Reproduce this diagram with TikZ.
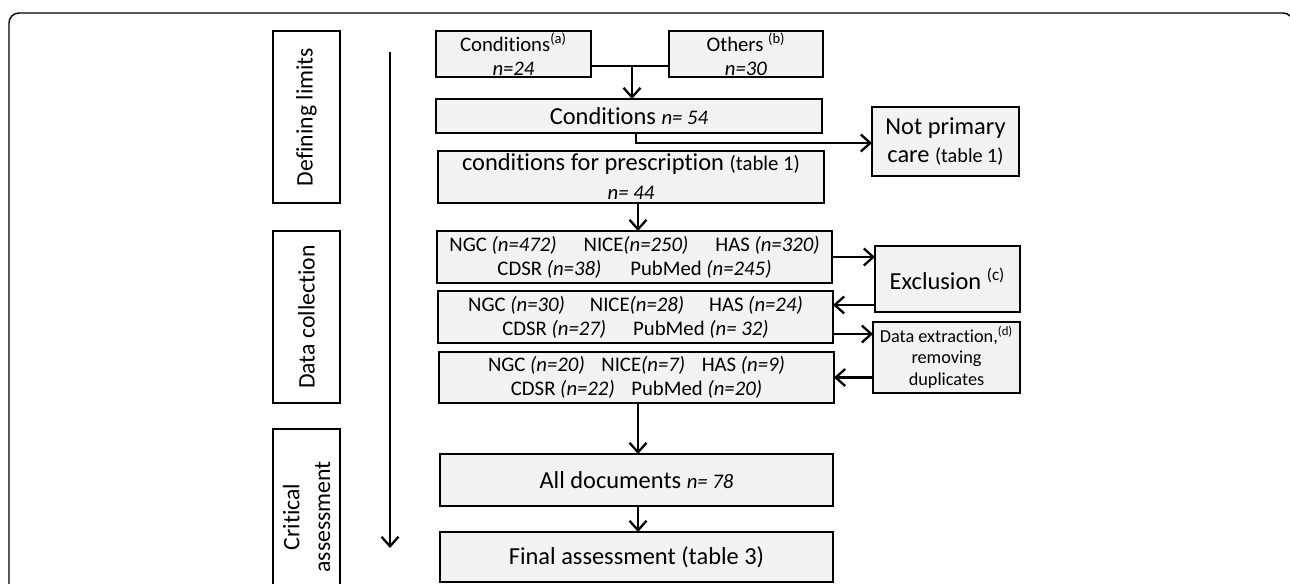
\documentclass[tikz,border=0pt]{standalone}
\usepackage{fontspec}
\setmainfont{Carlito}[Ligatures=NoCommon]
\usepackage{xcolor}
\usepackage{tikz}
\usetikzlibrary{positioning,calc,arrows.meta}

\definecolor{boxgray}{RGB}{242,242,242}

\tikzset{
  box/.style={draw, line width=1.6pt, fill=boxgray, inner sep=0pt, outer sep=0pt, align=center,
    font=\fontsize{13.9}{16.5}\selectfont},
  smallbox/.style={box, font=\fontsize{11.8}{13.7}\selectfont},
  sidebox/.style={draw, line width=1.2pt, fill=white, inner sep=0pt, outer sep=0pt, align=center,
    rotate=90, minimum height=1.34cm, font=\fontsize{13.5}{16.5}\selectfont},
  arr/.style={line width=1.3pt, -{Straight Barb[length=1.9mm,width=3.4mm,line width=1.3pt]}}
}

\begin{document}
\begin{tikzpicture}[x=0.02cm, y=-0.02cm]
    \useasboundingbox (0,0) rectangle (1290,584);
    \clip (0,0) rectangle (1290,584);

    % Frame
    \draw[line width=0.8pt, rounded corners=0.2cm] (9,640) -- (9,13) -- (1293,13) -- (1293,640);

    % Phases
    \node[sidebox, minimum width=3.44cm] (deflim) at (306.5,117) {Defining limits};
    \node[sidebox, minimum width=3.44cm] (datacol) at (306.5,317) {Data collection};
    \node[sidebox, minimum width=3.52cm, font=\fontsize{13.5}{17.5}\selectfont] (critass) at (306.5,517)
        {Critical\\assessment};
    \coordinate (ttop) at (390,52);
    \coordinate (tbot) at (390,548);
    \draw[arr] (ttop) -- (tbot);

    % Defining limits
    \node[smallbox, minimum width=3.1cm, minimum height=0.92cm] (condA) at (513.5,54)
        {Conditions\textsuperscript{(a)}\\\textit{n=24}};
    \node[smallbox, minimum width=3.08cm, minimum height=0.92cm] (others) at (746,54)
        {Others \textsuperscript{(b)}\\\textit{n=30}};
    \node[box, minimum width=7.72cm, minimum height=0.68cm] (cond54) at (629,116)
        {Conditions {\fontsize{11.8}{13}\selectfont\textit{n= 54}}};
    \node[box, minimum width=2.94cm, minimum height=1.38cm] (notprim) at (945.5,141.5)
        {Not primary\\care {\fontsize{11.5}{13}\selectfont(table 1)}};
    \node[box, minimum width=7.72cm, minimum height=1.04cm] (presc) at (631,177)
        {conditions for prescription {\fontsize{11.8}{13}\selectfont(table 1)}\\
         {\fontsize{11.8}{13}\selectfont\textit{n= 44}}};

    \coordinate (j1) at (632,66);
    \draw[line width=1.3pt] (condA.east |- j1) -- (others.west |- j1);
    \draw[arr] (j1) -- (j1 |- cond54.north);
    \coordinate (br) at (636,143);
    \draw[arr] (br |- cond54.south) -- (br) -- (br -| notprim.west);

    % Data collection
    \coordinate (mid) at (638,0);
    \node[smallbox, minimum width=7.9cm, minimum height=1.04cm] (ngc1) at (634.5,257)
        {NGC \textit{(n=472)}\hspace{1.3em}NICE\textit{(n=250)}\hspace{1.3em}HAS \textit{(n=320)}\\
         CDSR \textit{(n=38)}\hspace{1.4em}PubMed \textit{(n=245)}};
    \node[box, minimum width=2.9cm, minimum height=1.32cm] (excl) at (947.5,279)
        {Exclusion \textsuperscript{(c)}};
    \node[smallbox, minimum width=7.9cm, minimum height=1.04cm] (ngc2) at (635.5,317)
        {NGC \textit{(n=30)}\hspace{1.2em}NICE\textit{(n=28)}\hspace{1.2em}HAS \textit{(n=24)}\\
         CDSR \textit{(n=27)}\hspace{1.3em}PubMed \textit{(n= 32)}};
    \node[box, minimum width=2.94cm, minimum height=1.42cm, font=\fontsize{10.4}{12.3}\selectfont]
        (dataex) at (946.5,357.5) {Data extraction,\textsuperscript{(d)}\\removing\\duplicates};
    \node[smallbox, minimum width=7.9cm, minimum height=1.02cm] (ngc3) at (636.5,377.5)
        {NGC \textit{(n=20)}\hspace{0.8em}NICE\textit{(n=7)}\hspace{0.8em}HAS \textit{(n=9)}\\
         CDSR \textit{(n=22)}\hspace{0.8em}PubMed \textit{(n=20)}};

    \coordinate (lv1) at (0,305);
    \coordinate (lv2) at (0,334);
    \draw[arr] (presc.south -| mid) -- (ngc1.north -| mid);
    \draw[arr] (ngc1.east) -- (ngc1.east -| excl.west);
    \draw[arr] (excl.west |- lv1) -- (ngc2.east |- lv1);
    \draw[arr] (ngc2.east |- lv2) -- (dataex.west |- lv2);
    \draw[arr] (dataex.west |- ngc3.east) -- (ngc3.east);

    % Critical assessment
    \node[box, minimum width=7.86cm, minimum height=1.04cm] (alldoc) at (636.5,480)
        {All documents {\fontsize{11.8}{13}\selectfont\textit{n= 78}}};
    \node[box, minimum width=7.86cm, minimum height=1.0cm] (final) at (636.5,557)
        {Final assessment (table 3)};
    \draw[arr] (ngc3.south -| mid) -- (alldoc.north -| mid);
    \draw[arr] (alldoc.south -| mid) -- (final.north -| mid);
\end{tikzpicture}
\end{document}
